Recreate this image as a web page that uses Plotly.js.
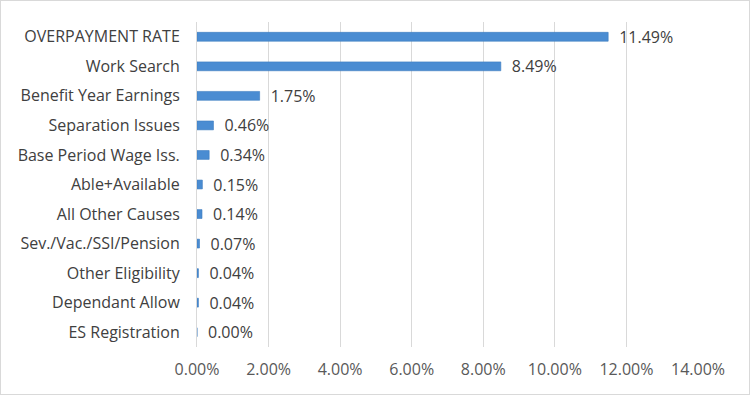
<!DOCTYPE html>
<html><head><meta charset="utf-8">
<script src="https://cdn.plot.ly/plotly-3.0.1.min.js"></script>
<style>
html,body{margin:0;padding:0;background:#fff;}
#wrap{width:750px;height:395px;box-sizing:border-box;border:1px solid #D9D9D9;position:relative;overflow:hidden;}
#chart{position:absolute;left:-1px;top:-1px;width:750px;height:395px;}
</style></head>
<body><div id="wrap"><div id="chart"></div></div>
<script>
const categories = ["OVERPAYMENT RATE","Work Search","Benefit Year Earnings","Separation Issues","Base Period Wage Iss.","Able+Available","All Other Causes","Sev./Vac./SSI/Pension","Other Eligibility","Dependant Allow","ES Registration"];
const values = [11.49, 8.49, 1.75, 0.46, 0.34, 0.15, 0.14, 0.07, 0.04, 0.04, 0.00];
const tickVals = [0,2,4,6,8,10,12,14];
const tickLabels = ["0.00%","2.00%","4.00%","6.00%","8.00%","10.00%","12.00%","14.00%"];

const font = "'Open Sans', sans-serif";
const trace = {
  type:'bar', orientation:'h',
  x: values, y: categories,
  text: values.map(v => '\u2002' + v.toFixed(2) + '%'),
  textposition:'outside', cliponaxis:false, constraintext:'none',
  textfont:{family:font, size:16, color:'#404040'},
  marker:{color:'#4A8CD2', line:{color:'#3D7CC0', width:0.6}},
  hoverinfo:'none'
};
const layout = {
  width:750, height:395,
  margin:{l:197, r:52, t:22, b:48, pad:0},
  paper_bgcolor:'#fff', plot_bgcolor:'#fff',
  showlegend:false, bargap:0.7,
  font:{family:font, size:16, color:'#595959'},
  xaxis:{range:[0,14], tickvals:tickVals, ticktext:tickLabels, showgrid:true, gridcolor:'#D9D9D9', gridwidth:1,
         zeroline:false, showline:false, ticks:'', ticklabelstandoff:11, tickfont:{family:font, size:16, color:'#595959'}, fixedrange:true},
  yaxis:{autorange:'reversed', showgrid:false, zeroline:false, showline:true, linecolor:'#D9D9D9', linewidth:1, ticks:'', ticklabelstandoff:13,
         tickfont:{family:font, size:16, color:'#404040'}, fixedrange:true}
};
Plotly.newPlot('chart',[trace],layout,{displayModeBar:false, staticPlot:true});
</script></body></html>
